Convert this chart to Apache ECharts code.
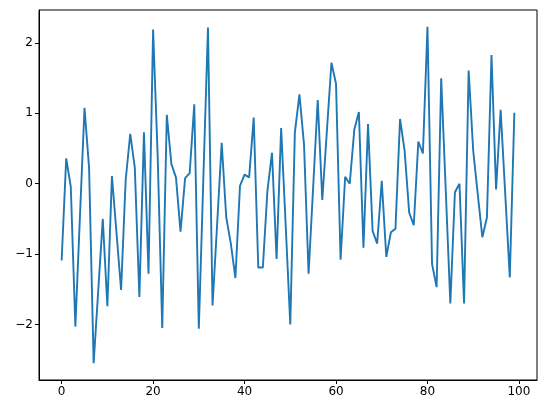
<!DOCTYPE html>
<html>
<head>
<meta charset="utf-8">
<script src="https://cdn.jsdelivr.net/npm/echarts@6/dist/echarts.min.js"></script>
<style>html,body{margin:0;padding:0;background:#fff}#c{width:546px;height:413px}</style>
</head>
<body>
<div id="c"></div>
<script>
const xValues = Array.from({length: 100}, (_, i) => i);
const yValues = [
  -1.09, 0.36, -0.04, -2.03, -0.47, 1.08, 0.23, -2.55, -1.52, -0.50,
  -1.74, 0.11, -0.70, -1.51, 0.05, 0.71, 0.23, -1.61, 0.73, -1.28,
  2.19, 0.40, -2.05, 0.98, 0.28, 0.09, -0.68, 0.08, 0.15, 1.13,
  -2.06, 0.10, 2.22, -1.73, -0.58, 0.58, -0.48, -0.85, -1.34, -0.03,
  0.13, 0.09, 0.94, -1.19, -1.19, -0.10, 0.44, -1.07, 0.79, -0.60,
  -2.00, 0.73, 1.27, 0.56, -1.28, -0.05, 1.19, -0.23, 0.75, 1.72,
  1.42, -1.08, 0.10, 0.00, 0.77, 1.02, -0.91, 0.85, -0.67, -0.85,
  0.04, -1.04, -0.69, -0.64, 0.92, 0.47, -0.41, -0.59, 0.60, 0.43,
  2.23, -1.14, -1.47, 1.50, -0.10, -1.70, -0.12, 0.00, -1.70, 1.61,
  0.47, -0.15, -0.76, -0.48, 1.83, -0.08, 1.05, -0.14, -1.33, 1.01
];
const xTicks = [0, 20, 40, 60, 80, 100];
const yTicks = [-2, -1, 0, 1, 2];

// matplotlib-style 5% margins
const xMinD = Math.min(...xValues), xMaxD = Math.max(...xValues);
const yMinD = Math.min(...yValues), yMaxD = Math.max(...yValues);
const xPad = (xMaxD - xMinD) * 0.05, yPad = (yMaxD - yMinD) * 0.05;

const fmt = v => String(v).replace('-', '\u2212');
const font = {fontFamily: 'DejaVu Sans', fontSize: 12, color: '#000'};

const chart = echarts.init(document.getElementById('c'), null, {renderer: 'canvas'});
chart.setOption({
  animation: false,
  backgroundColor: '#fff',
  grid: {left: 39, right: 9, top: 10, bottom: 33, show: true, borderColor: '#000', borderWidth: 1, containLabel: false},
  xAxis: {
    type: 'value', min: xMinD - xPad, max: xMaxD + xPad,
    splitLine: {show: false},
    axisLine: {show: true, onZero: false, lineStyle: {color: '#000', width: 1}},
    axisTick: {show: true, length: 4, inside: false, customValues: xTicks, lineStyle: {color: '#000', width: 1}},
    axisLabel: Object.assign({customValues: xTicks, margin: 6, formatter: fmt}, font)
  },
  yAxis: {
    type: 'value', min: yMinD - yPad, max: yMaxD + yPad,
    splitLine: {show: false},
    axisLine: {show: true, onZero: false, lineStyle: {color: '#000', width: 1}},
    axisTick: {show: true, length: 4, inside: false, customValues: yTicks, lineStyle: {color: '#000', width: 1}},
    axisLabel: Object.assign({customValues: yTicks, margin: 6, formatter: fmt}, font)
  },
  series: [{
    type: 'line',
    data: xValues.map((x, i) => [x, yValues[i]]),
    showSymbol: false,
    lineStyle: {color: '#1f77b4', width: 1.9},
    itemStyle: {color: '#1f77b4'}
  }]
});
</script>
</body>
</html>
